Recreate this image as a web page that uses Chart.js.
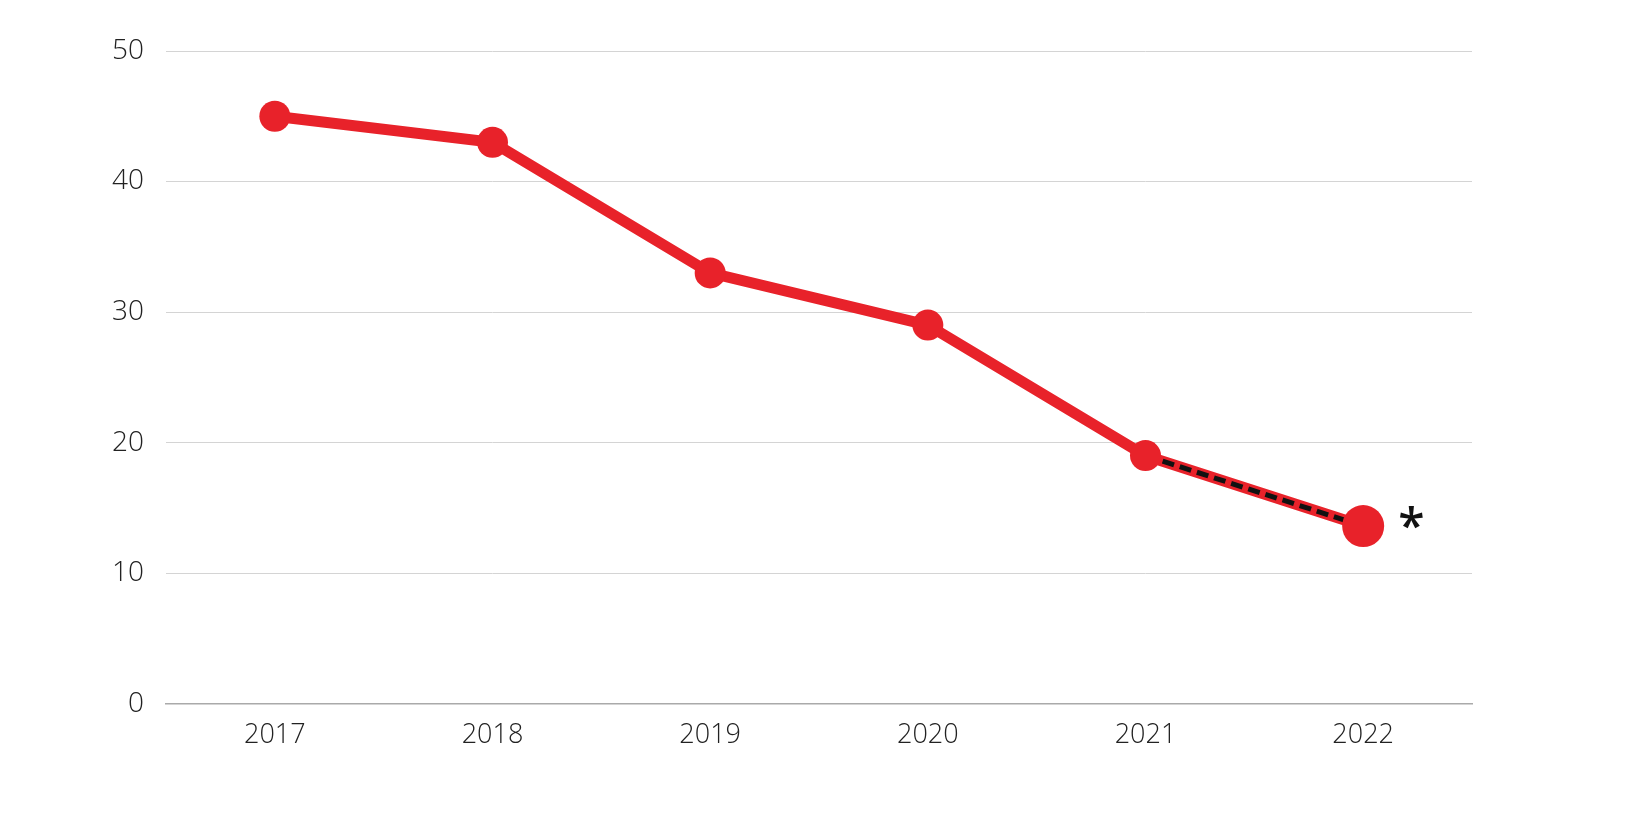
<!DOCTYPE html>
<html>
<head>
<meta charset="utf-8">
<script src="https://cdn.jsdelivr.net/npm/chart.js@4/dist/chart.umd.min.js"></script>
<style>
  html, body { margin: 0; padding: 0; background: #fff; }
  #wrap { width: 1640px; height: 813px; position: relative; }
</style>
</head>
<body>
<div id="wrap"><canvas id="c" width="1640" height="813"></canvas></div>
<script>
const years = ['2017', '2018', '2019', '2020', '2021', '2022'];
const values = [45, 43, 33, 29, 19, 13.6];
const dashedFromIndex = 4;
const yTicks = [0, 10, 20, 30, 40, 50];
const noteMark = '*';

const red = '#e8222a';
const dashedValues = values.map((v, i) => (i >= dashedFromIndex ? v : null));
const pointSizes = values.map((v, i) => (i === values.length - 1 ? 21 : 15.5));

const asteriskPlugin = {
  id: 'asterisk',
  afterDatasetsDraw(chart) {
    const meta = chart.getDatasetMeta(2);
    const pt = meta.data[values.length - 1];
    const ctx = chart.ctx;
    ctx.save();
    ctx.fillStyle = '#111';
    ctx.font = '600 48px "Open Sans", sans-serif';
    ctx.textAlign = 'left';
    ctx.textBaseline = 'middle';
    ctx.fillText(noteMark, pt.x + 35, pt.y + 3);
    ctx.restore();
  }
};

new Chart(document.getElementById('c'), {
  type: 'line',
  data: {
    labels: years,
    datasets: [
      {
        data: values,
        borderColor: red,
        borderWidth: 11,
        pointRadius: 0,
        pointHoverRadius: 0,
        tension: 0,
        order: 3
      },
      {
        data: dashedValues,
        borderColor: '#111',
        borderWidth: 5,
        borderDash: [12, 6],
        pointRadius: 0,
        pointHoverRadius: 0,
        tension: 0,
        order: 2
      },
      {
        data: values,
        showLine: false,
        backgroundColor: red,
        borderColor: red,
        borderWidth: 0,
        pointRadius: pointSizes,
        pointHoverRadius: pointSizes,
        order: 1
      }
    ]
  },
  options: {
    responsive: false,
    animation: false,
    events: [],
    layout: { padding: { left: 0, right: 168, top: 51, bottom: 45 } },
    plugins: { legend: { display: false }, tooltip: { enabled: false } },
    scales: {
      x: {
        offset: true,
        grid: { display: false, drawTicks: false },
        border: { display: true, color: '#aaaaaa', width: 1.5 },
        ticks: {
          padding: 16,
          color: '#222',
          font: { family: '"Open Sans", sans-serif', size: 27, weight: 300 }
        }
      },
      y: {
        min: 0,
        max: 50,
        afterBuildTicks(scale) { scale.ticks = yTicks.map(v => ({ value: v })); },
        afterFit(scale) { scale.width = 166; },
        grid: {
          color: (ctx) => (ctx.tick && ctx.tick.value === 0 ? '#aaaaaa' : '#d4d4d4'),
          lineWidth: 1,
          drawTicks: false
        },
        border: { display: false },
        ticks: {
          padding: 22,
          color: '#222',
          font: { family: '"Open Sans", sans-serif', size: 28, weight: 300 }
        }
      }
    }
  },
  plugins: [asteriskPlugin]
});
</script>
</body>
</html>
